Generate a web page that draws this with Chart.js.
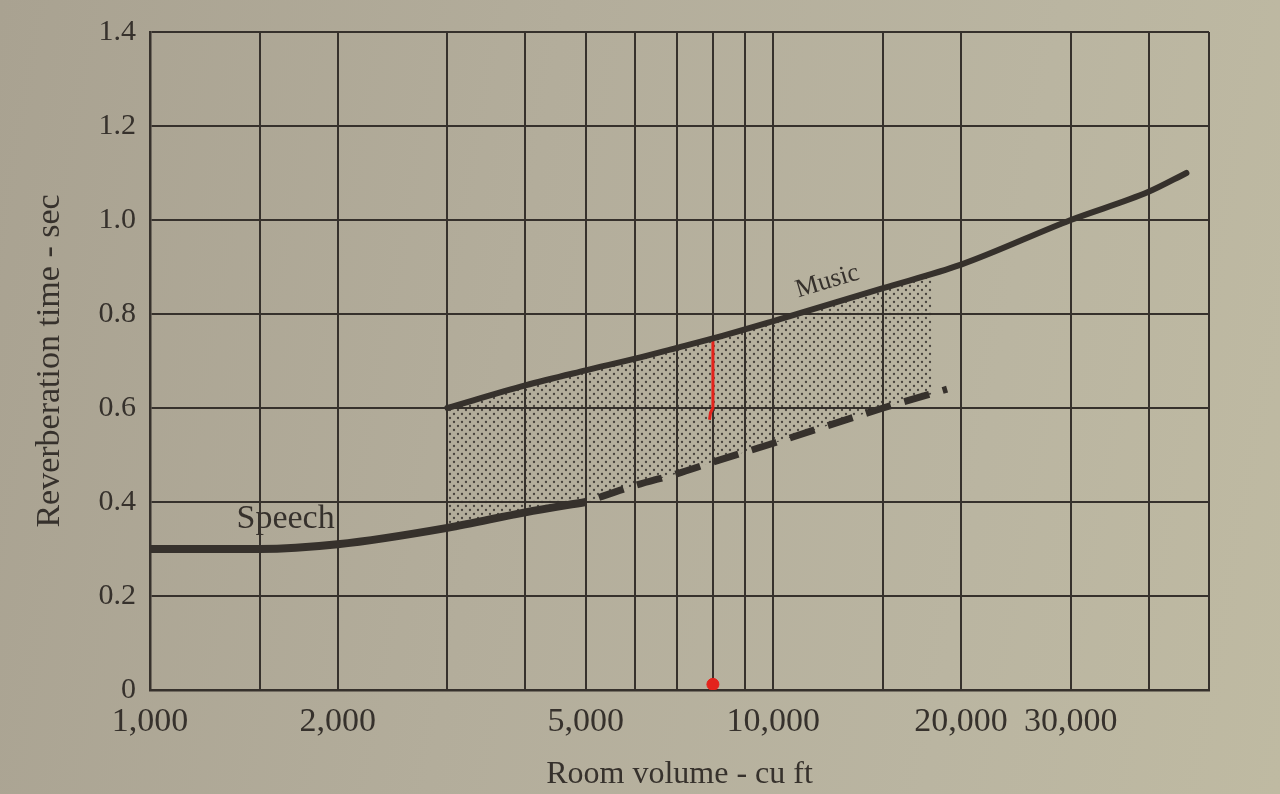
<!DOCTYPE html>
<html>
<head>
<meta charset="utf-8">
<script src="https://cdn.jsdelivr.net/npm/chart.js@4.4.1/dist/chart.umd.min.js"></script>
<style>
html,body{margin:0;padding:0;width:1280px;height:794px;overflow:hidden;
background:linear-gradient(100deg,#a9a291 0%,#b3ad9b 40%,#bab5a1 75%,#bfbaa2 100%);}
canvas{display:block}
</style>
</head>
<body>
<canvas id="c" width="1280" height="794"></canvas>
<script>
// ---- data ----
const gridVolumes = [1000,1500,2000,3000,4000,5000,6000,7000,8000,9000,10000,15000,20000,30000,40000,50000];
const labeledVolumes = [1000,2000,5000,10000,20000,30000];
const yTicks = [0,0.2,0.4,0.6,0.8,1.0,1.2,1.4];

const speechVolumes = [1000,1500,2000,3000,4000,5000];
const speechTimes   = [0.30,0.30,0.31,0.345,0.378,0.40];

const speechExtVolumes = [5000,6000,7000,8000,10000,15000,19000];
const speechExtTimes   = [0.40,0.435,0.46,0.485,0.525,0.60,0.64];

const musicVolumes = [3000,4000,5000,6000,7000,8000,10000,15000,20000,30000,40000,46000];
const musicTimes   = [0.60,0.648,0.68,0.705,0.728,0.748,0.785,0.855,0.905,1.00,1.06,1.10];

const shadeVolumes = [3000,4000,5000,6000,7000,8000,10000,15000,18000];
const shadeUpper   = [0.60,0.648,0.68,0.705,0.728,0.748,0.785,0.855,0.885];
const shadeLower   = [0.345,0.378,0.40,0.435,0.46,0.485,0.525,0.60,0.63];

const markVolumes = [8000,8000,7930,7900];
const markTimes   = [0.748,0.60,0.59,0.575];
const dotVolumes  = [8000];
const dotTimes    = [0.012];

// ---- styling ----
const INK = '#36312c';
const RED = '#e3231c';
const SERIF = '"Liberation Serif", "DejaVu Serif", serif';

const pts = (xs, ys) => xs.map((x, i) => ({x: x, y: ys[i]}));

function stipple() {
  const c = document.createElement('canvas');
  c.width = 8; c.height = 8;
  const g = c.getContext('2d');
  g.fillStyle = 'rgba(52,47,42,0.85)';
  [[2,2],[6,6]].forEach(p => { g.beginPath(); g.arc(p[0], p[1], 1.15, 0, Math.PI*2); g.fill(); });
  return g.createPattern(c, 'repeat');
}

const curveLabels = {
  id: 'curveLabels',
  afterDatasetsDraw(chart) {
    const {ctx, scales: {x, y}} = chart;
    ctx.save();
    ctx.fillStyle = INK;
    ctx.textAlign = 'center';
    ctx.textBaseline = 'alphabetic';
    ctx.font = '34px ' + SERIF;
    ctx.fillText('Speech', x.getPixelForValue(1650), y.getPixelForValue(0.345));
    const m = chart.getDatasetMeta(0).data;
    const a = Math.atan2(m[7].y - m[6].y, m[7].x - m[6].x);
    ctx.translate(x.getPixelForValue(12300), y.getPixelForValue(0.855));
    ctx.rotate(a);
    ctx.font = '26px ' + SERIF;
    ctx.fillText('Music', 0, 0);
    ctx.restore();
  }
};

const ctx = document.getElementById('c').getContext('2d');
new Chart(ctx, {
  type: 'line',
  data: {
    datasets: [
      { label: 'Music', data: pts(musicVolumes, musicTimes), borderColor: INK, borderWidth: 6,
        pointRadius: 0, cubicInterpolationMode: 'monotone', fill: false, borderCapStyle: 'round' },
      { label: 'Speech', data: pts(speechVolumes, speechTimes), borderColor: INK, borderWidth: 8,
        pointRadius: 0, cubicInterpolationMode: 'monotone', fill: false },
      { label: 'Speech (extended)', data: pts(speechExtVolumes, speechExtTimes), borderColor: INK, borderWidth: 7,
        borderDash: [26, 14], borderDashOffset: 26, pointRadius: 0, cubicInterpolationMode: 'monotone', fill: false },
      { label: 'mark', data: pts(markVolumes, markTimes), borderColor: RED, borderWidth: 3,
        pointRadius: 0, tension: 0, fill: false },
      { label: 'dot', data: pts(dotVolumes, dotTimes), showLine: false, pointRadius: 6,
        pointBackgroundColor: RED, pointBorderColor: RED, pointBorderWidth: 1 },
      { label: 'shadeTop', data: pts(shadeVolumes, shadeUpper), borderWidth: 0, borderColor: 'rgba(0,0,0,0)',
        pointRadius: 0, cubicInterpolationMode: 'monotone', fill: '+1', backgroundColor: stipple() },
      { label: 'shadeBottom', data: pts(shadeVolumes, shadeLower), borderWidth: 0, borderColor: 'rgba(0,0,0,0)',
        pointRadius: 0, cubicInterpolationMode: 'monotone', fill: false }
    ]
  },
  options: {
    responsive: false,
    devicePixelRatio: 1,
    animation: false,
    layout: { padding: { top: 22, right: 71, left: 0, bottom: 0 } },
    plugins: { legend: { display: false }, tooltip: { enabled: false } },
    scales: {
      x: {
        type: 'logarithmic', min: 1000, max: 50000,
        afterBuildTicks: s => { s.ticks = gridVolumes.map(v => ({value: v})); },
        afterFit: s => { s.height = 104; },
        ticks: {
          autoSkip: false, maxRotation: 0, minRotation: 0, padding: 12, color: INK,
          font: { family: SERIF, size: 34 },
          callback: v => labeledVolumes.includes(v) ? v.toLocaleString('en-US') : ''
        },
        grid: { color: INK, lineWidth: 2, drawTicks: false },
        border: { color: INK, width: 2.5 },
        title: { display: true, text: 'Room volume - cu ft', color: INK,
          font: { family: SERIF, size: 32 }, padding: { top: 10, bottom: 0 } }
      },
      y: {
        type: 'linear', min: 0, max: 1.4,
        afterBuildTicks: s => { s.ticks = yTicks.map(v => ({value: v})); },
        afterFit: s => { s.width = 150; },
        ticks: {
          padding: 14, color: INK, font: { family: SERIF, size: 30 },
          callback: v => v === 0 ? '0' : Number(v).toFixed(1)
        },
        grid: { color: INK, lineWidth: 2, drawTicks: false },
        border: { color: INK, width: 2.5 },
        title: { display: true, text: 'Reverberation time - sec', color: INK,
          font: { family: SERIF, size: 34 }, padding: { top: 30, bottom: 0 } }
      }
    }
  },
  plugins: [curveLabels]
});
</script>
</body>
</html>
